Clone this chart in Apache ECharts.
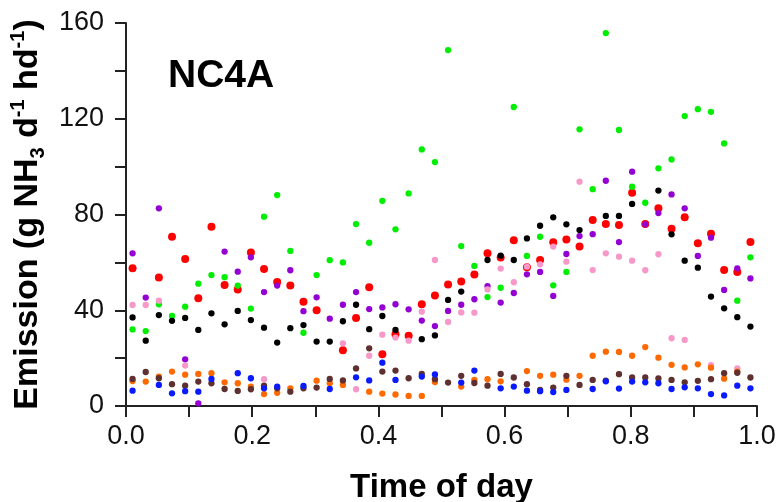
<!DOCTYPE html>
<html>
<head>
<meta charset="utf-8">
<script src="https://cdn.jsdelivr.net/npm/echarts@6/dist/echarts.min.js"></script>
<style>
  html, body { margin: 0; padding: 0; background: #fff; }
  #chart { width: 780px; height: 502px; }
</style>
</head>
<body>
<div id="chart"></div>
<script>
// Sampling slots: 48 half-hour slots, plotted at slot mid-points (fraction of day)
const slotCount = 48;
const times = Array.from({ length: slotCount }, (_, i) => (i + 0.5) / slotCount);

const xTickLabels = ['0.0', '0.2', '0.4', '0.6', '0.8', '1.0'];
const yTickLabels = ['0', '40', '80', '120', '160'];

const redVals = [57.5, null, 53.7, 70.7, 61.4, 45.0, 74.9, 50.5, 48.7, 64.1, 57.2, 51.8,
  50.3, 43.6, 40.0, null, 23.3, 36.8, 49.6, 21.6, 30.0, 29.3, 42.5, 46.2,
  50.8, 52.0, 54.9, 63.8, 62.0, 69.2, 58.0, 61.0, 68.4, 69.6, 66.6, 77.7,
  76.0, 75.6, 89.1, 76.0, 82.6, 74.0, 78.8, 68.0, 72.0, 56.8, 56.0, 68.5];

const greenVals = [32.0, 31.3, 42.5, 37.6, 41.5, 51.1, 54.7, 53.8, 50.3, 40.7, 79.1, 88.1,
  64.8, 30.6, 54.7, 60.9, 60.0, 76.0, 68.2, 85.7, 73.8, 88.8, 107.2, 101.9,
  148.7, 66.8, 58.5, 45.5, 49.4, 124.9, 62.7, 70.7, 50.4, 56.0, 115.6, 90.6,
  155.8, 115.3, 91.6, 84.9, 99.3, 103.0, 121.1, 124.0, 122.9, 109.7, 44.0, 62.1];

const blackVals = [37.0, 27.3, 38.0, 35.6, 36.8, 31.8, 38.7, 34.1, 39.7, 35.9, 32.7, 26.5,
  32.5, 33.8, 26.9, 26.9, 35.4, 42.3, 32.1, 37.6, 31.8, null, 27.9, 29.5,
  44.3, 47.8, null, 61.0, 62.8, 61.0, 70.0, 75.3, 78.8, 75.9, 73.5, null,
  79.4, 79.4, 84.4, null, 90.0, 71.7, 60.7, 57.8, 45.7, 40.8, 37.1, 33.2];

const purpleVals = [63.8, 45.3, 82.6, null, 19.5, 1.1, null, 64.5, 56.1, 62.1, 47.6, 50.3,
  56.7, 39.6, 45.4, 36.5, 42.3, 47.6, 40.5, 41.2, 42.5, 40.4, 35.7, 33.4,
  39.7, 42.3, 44.6, 50.1, 43.2, 47.2, 55.0, 56.0, 46.0, 63.5, 71.0, 71.8,
  94.1, 68.5, 97.9, 75.9, 80.6, 88.4, 82.6, 62.7, 70.3, 48.5, 57.5, 53.3];

const pinkVals = [42.2, 42.2, 44.0, null, 16.9, null, null, null, null, null, 11.2, null,
  null, null, null, null, 26.2, 7.0, 21.0, 29.8, 28.6, 27.3, 39.4, 61.0,
  35.1, 39.1, 39.0, 48.7, 57.4, 51.7, 58.2, 59.2, 66.6, 60.3, 93.7, 56.8,
  63.8, 62.4, 60.7, 56.7, 63.4, 28.3, 27.6, null, 17.1, null, 15.7, null];

const orangeVals = [10.4, 10.2, 12.3, 14.4, 13.1, 13.4, 13.7, 9.9, 9.5, 8.1, 5.0, 5.5,
  7.4, null, 10.6, 9.5, 8.8, null, 6.0, 5.2, 4.8, 4.2, 4.2, 10.0,
  null, 8.1, 10.9, 11.2, 10.3, null, 14.6, 12.6, 13.1, 11.0, 12.6, 21.0,
  22.7, 22.6, 21.0, 24.6, 20.2, 17.2, 16.1, 17.4, 16.0, 11.4, 14.4, null];

const brownVals = [11.3, 14.2, 11.6, 9.1, 8.5, 10.2, 9.5, 7.1, 6.3, 7.0, 8.5, 7.4,
  6.0, 7.4, 7.7, 11.3, 10.7, 15.7, 24.1, 14.4, 14.8, 11.6, 13.4, 11.2,
  9.8, 12.6, 9.6, 8.5, 13.4, 11.9, 9.1, 6.7, 7.7, 12.6, 8.8, 10.9,
  10.6, 13.3, 11.9, 11.9, 11.5, 10.9, 9.9, 10.5, 11.2, 13.7, 13.9, 11.9];

const blueVals = [6.4, null, 8.8, 5.3, 6.2, 6.0, 11.3, null, 13.7, 11.6, 7.4, 8.1,
  null, 8.4, null, 7.1, null, 12.0, 10.7, 18.1, 10.9, null, 12.3, 13.2,
  null, 9.8, 14.8, null, 7.4, 8.1, 6.4, 6.2, 5.8, 6.7, null, 7.1,
  10.3, 7.3, 10.2, 9.9, 9.5, 7.1, 7.8, 7.4, 5.0, 4.4, 8.5, 7.4];

const seriesDefs = [
  { name: 'red', values: redVals, color: '#ff0000', size: 8 },
  { name: 'green', values: greenVals, color: '#00ee00', size: 6.3 },
  { name: 'black', values: blackVals, color: '#000000', size: 6.3 },
  { name: 'purple', values: purpleVals, color: '#9400d3', size: 6.3 },
  { name: 'pink', values: pinkVals, color: '#f799c8', size: 6.3 },
  { name: 'orange', values: orangeVals, color: '#ff6a00', size: 6.3 },
  { name: 'brown', values: brownVals, color: '#5e3030', size: 6.3 },
  { name: 'blue', values: blueVals, color: '#0a1aff', size: 6.3 }
];

const FONT = '"Liberation Sans", Arial, sans-serif';
const chart = echarts.init(document.getElementById('chart'), null, { renderer: 'canvas' });

const option = {
  backgroundColor: '#ffffff',
  animation: false,
  title: {
    text: 'NC4A',
    left: 163,
    top: 52,
    textStyle: { fontFamily: FONT, fontSize: 39, fontWeight: 'bold', color: '#000' }
  },
  grid: { left: 126, right: 23, top: 23, bottom: 96, containLabel: false, outerBoundsMode: 'none' },
  xAxis: {
    type: 'value',
    min: 0, max: 1, interval: 0.1,
    name: 'Time of day',
    nameLocation: 'middle',
    nameGap: 65,
    nameTextStyle: { fontFamily: FONT, fontSize: 33, fontWeight: 'bold', color: '#000' },
    axisLine: { show: true, onZero: false, lineStyle: { color: '#222', width: 2 } },
    axisTick: { show: true, inside: false, length: 11, lineStyle: { color: '#222', width: 2 } },
    axisLabel: {
      margin: 17,
      fontFamily: FONT, fontSize: 27, color: '#111',
      formatter: function (v) {
        const s = v.toFixed(1);
        return xTickLabels.indexOf(s) >= 0 ? s : '';
      }
    },
    splitLine: { show: false }
  },
  yAxis: {
    type: 'value',
    min: 0, max: 160, interval: 20,
    name: '{b|Emission (g NH}{s|3}{b| d}{p|-1}{b| hd}{p|-1}{b|)}',
    nameLocation: 'middle',
    nameGap: 76,
    nameRotate: 90,
    nameTextStyle: {
      fontFamily: FONT, fontSize: 34, fontWeight: 'bold', color: '#000',
      rich: {
        b: { fontFamily: FONT, fontSize: 34, fontWeight: 'bold', color: '#000', lineHeight: 40 },
        s: { fontFamily: FONT, fontSize: 20, fontWeight: 'bold', color: '#000', verticalAlign: 'bottom', lineHeight: 20, padding: [14, 0, 0, 0] },
        p: { fontFamily: FONT, fontSize: 20, fontWeight: 'bold', color: '#000', verticalAlign: 'top', lineHeight: 20, padding: [0, 0, 14, 0] }
      }
    },
    axisLine: { show: true, onZero: false, lineStyle: { color: '#222', width: 2 } },
    axisTick: { show: true, inside: false, length: 11, lineStyle: { color: '#222', width: 2 } },
    axisLabel: {
      margin: 22,
      fontFamily: FONT, fontSize: 27, color: '#111',
      formatter: function (v) {
        const s = String(v);
        return yTickLabels.indexOf(s) >= 0 ? s : '';
      }
    },
    splitLine: { show: false }
  },
  series: seriesDefs.map(d => ({
    name: d.name,
    type: 'scatter',
    symbol: 'circle',
    symbolSize: d.size,
    itemStyle: { color: d.color, opacity: 1 },
    emphasis: { disabled: true },
    data: times.map((t, i) => d.values[i] == null ? null : [t, d.values[i]]).filter(p => p !== null)
  }))
};

chart.setOption(option);
</script>
</body>
</html>
